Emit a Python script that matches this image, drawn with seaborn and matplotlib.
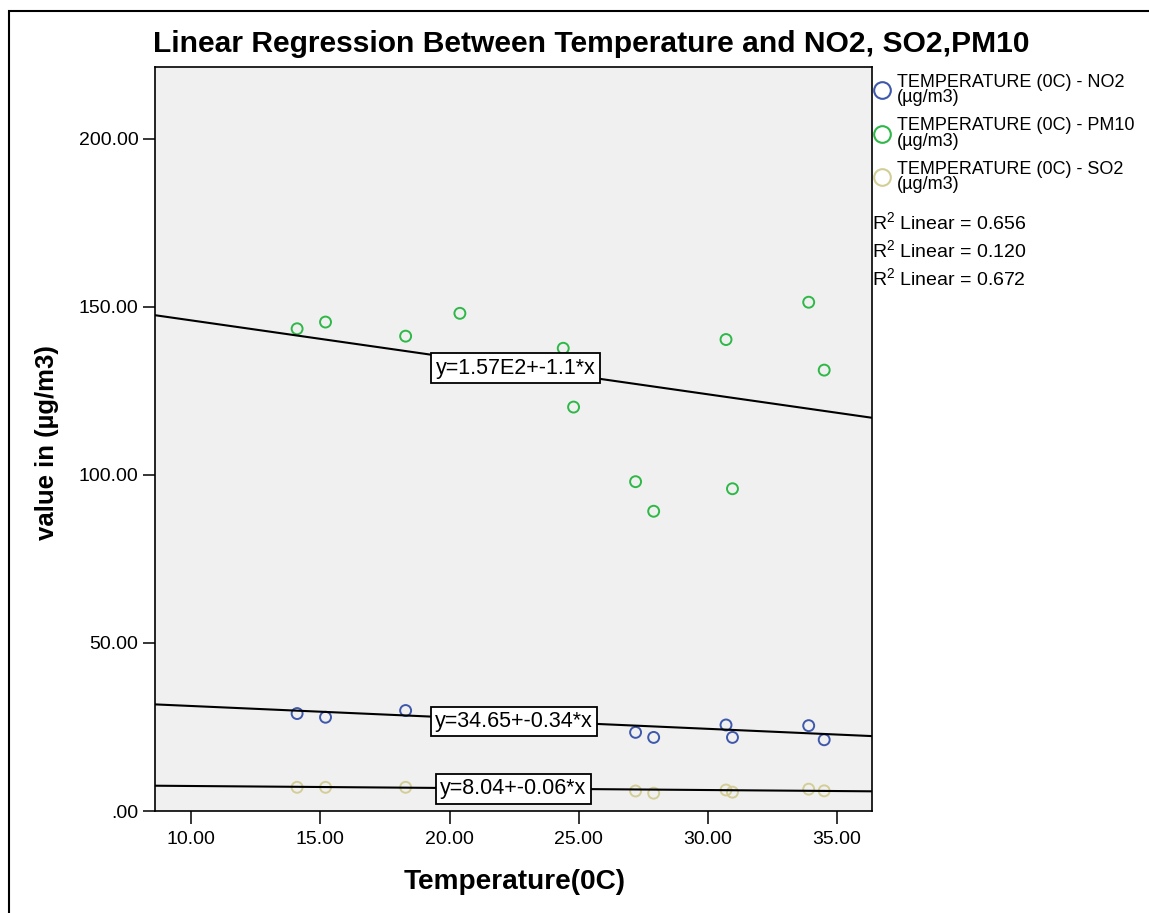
import numpy as np
import pandas as pd
import matplotlib
matplotlib.use("Agg")
import matplotlib.pyplot as plt
import seaborn as sns
from matplotlib.lines import Line2D
from matplotlib.patches import Rectangle

# ---------------- data ----------------
temperature = [14.1, 15.2, 18.3, 20.4, 24.4, 24.8, 27.2, 27.9, 30.7, 30.95, 33.9, 34.5]
no2 = [29.0, 27.9, 29.9, 27.5, 26.0, 25.0, 23.4, 21.9, 25.6, 21.9, 25.4, 21.2]
pm10 = [143.5, 145.5, 141.3, 148.1, 137.7, 120.2, 98.0, 89.2, 140.3, 95.9, 151.4, 131.2]
so2 = [7.05, 7.05, 7.05, 6.8, 6.5, 6.3, 5.95, 5.3, 6.25, 5.6, 6.5, 6.0]

series_names = ["NO2", "PM10", "SO2"]
series_colors = ["#3E58AC", "#2EB848", "#D3CE97"]
legend_labels = ["TEMPERATURE (0C) - NO2\n(µg/m3)",
                 "TEMPERATURE (0C) - PM10\n(µg/m3)",
                 "TEMPERATURE (0C) - SO2\n(µg/m3)"]
fit_intercepts = [34.65, 157.0, 8.04]
fit_slopes = [-0.34, -1.1, -0.06]
fit_labels = ["y=34.65+-0.34*x", "y=1.57E2+-1.1*x", "y=8.04+-0.06*x"]
r2_values = ["0.656", "0.120", "0.672"]

xticks = [10, 15, 20, 25, 30, 35]
xtick_labels = ["10.00", "15.00", "20.00", "25.00", "30.00", "35.00"]
yticks = [0, 50, 100, 150, 200]
ytick_labels = [".00", "50.00", "100.00", "150.00", "200.00"]

title = "Linear Regression Between Temperature and NO2, SO2,PM10"
xlabel = "Temperature(0C)"
ylabel = "value in (µg/m3)"

# ---------------- style ----------------
sns.set_style("white")
plt.rcParams["font.family"] = ["Liberation Sans", "DejaVu Sans"]
plt.rcParams["mathtext.fontset"] = "custom"
plt.rcParams["mathtext.rm"] = "Liberation Sans"
plt.rcParams["text.color"] = "black"
plt.rcParams["axes.labelcolor"] = "black"
plt.rcParams["xtick.color"] = "black"
plt.rcParams["ytick.color"] = "black"

W, H = 1149, 913
fig = plt.figure(figsize=(W / 100, H / 100), dpi=100)
fig.patch.set_facecolor("white")

ax_l, ax_r, ax_t, ax_b = 155, 872, 67, 811
ax = fig.add_axes([ax_l / W, 1 - ax_b / H, (ax_r - ax_l) / W, (ax_b - ax_t) / H])
ax.set_facecolor("#F0F0F0")

xlim = (8.6, 36.35)
ylim = (0, 221.4)

df = pd.DataFrame({"temperature": temperature, "NO2": no2, "PM10": pm10, "SO2": so2})

for name, col in zip(series_names, series_colors):
    sns.scatterplot(data=df, x="temperature", y=name, ax=ax, marker="o", s=62,
                    color=col, facecolor="none", edgecolor=col, linewidth=1.4,
                    legend=False, zorder=3)

xl = np.array(xlim)
for b0, b1 in zip(fit_intercepts, fit_slopes):
    sns.lineplot(x=xl, y=b0 + b1 * xl, ax=ax, color="black", linewidth=1.5, zorder=4)

label_pos = [(22.5, 26.6), (22.55, 131.8), (22.47, 6.6)]
for (lx, ly), txt in zip(label_pos, fit_labels):
    ax.text(lx, ly, txt, ha="center", va="center", fontsize=15.5, zorder=6, color="black",
            bbox=dict(boxstyle="square,pad=0.2", fc="white", ec="black", lw=1.3))

ax.set_xlim(*xlim)
ax.set_ylim(*ylim)
ax.set_xticks(xticks)
ax.set_xticklabels(xtick_labels)
ax.set_yticks(yticks)
ax.set_yticklabels(ytick_labels)
ax.tick_params(axis="both", direction="out", length=9, width=1.1, labelsize=14,
               colors="black", left=True, bottom=True)
ax.tick_params(axis="x", pad=5.5)
ax.tick_params(axis="y", pad=3)
for sp in ax.spines.values():
    sp.set_visible(True)
    sp.set_color("black")
    sp.set_linewidth(1.2)

ax.set_xlabel(xlabel, fontsize=20.2, fontweight="bold", color="black")
ax.xaxis.set_label_coords(0.5 + (515 - 513.5) / (ax_r - ax_l), -(869 - ax_b) / (ax_b - ax_t))
ax.set_ylabel(ylabel, fontsize=18.5, fontweight="bold", color="black")
ax.yaxis.set_label_coords(-(ax_l - 59) / (ax_r - ax_l), (ax_b - 442.5) / (ax_b - ax_t))

fig.text(153 / W, 1 - 52 / H, title, fontsize=21.6, fontweight="bold",
         ha="left", va="baseline", color="black")

# legend
handles = [Line2D([0], [0], marker="o", ls="none", mfc="none", mec=c, mew=1.5, ms=12)
           for c in series_colors]
leg = ax.legend(handles, legend_labels, loc="upper left",
                bbox_to_anchor=(872.7 / W, 1 - 74 / H), bbox_transform=fig.transFigure,
                frameon=False, fontsize=13, handlelength=1.0, handletextpad=0.33,
                labelspacing=0.6, borderpad=0, borderaxespad=0)
for t in leg.get_texts():
    t.set_linespacing(0.88)
    t.set_color("black")

r2_y = [222, 250, 278]
for yy, r2 in zip(r2_y, r2_values):
    fig.text(872 / W, 1 - yy / H, r"R$\mathregular{^2}$ Linear = " + r2, fontsize=14,
             ha="left", va="center", color="black")

# outer frame
fig.add_artist(Rectangle((8.5 / W, -0.1), 1.2, (1 - 11 / H) + 0.1, transform=fig.transFigure,
                         fill=False, ec="black", lw=1.5))

fig.savefig("out.png", dpi=100)
